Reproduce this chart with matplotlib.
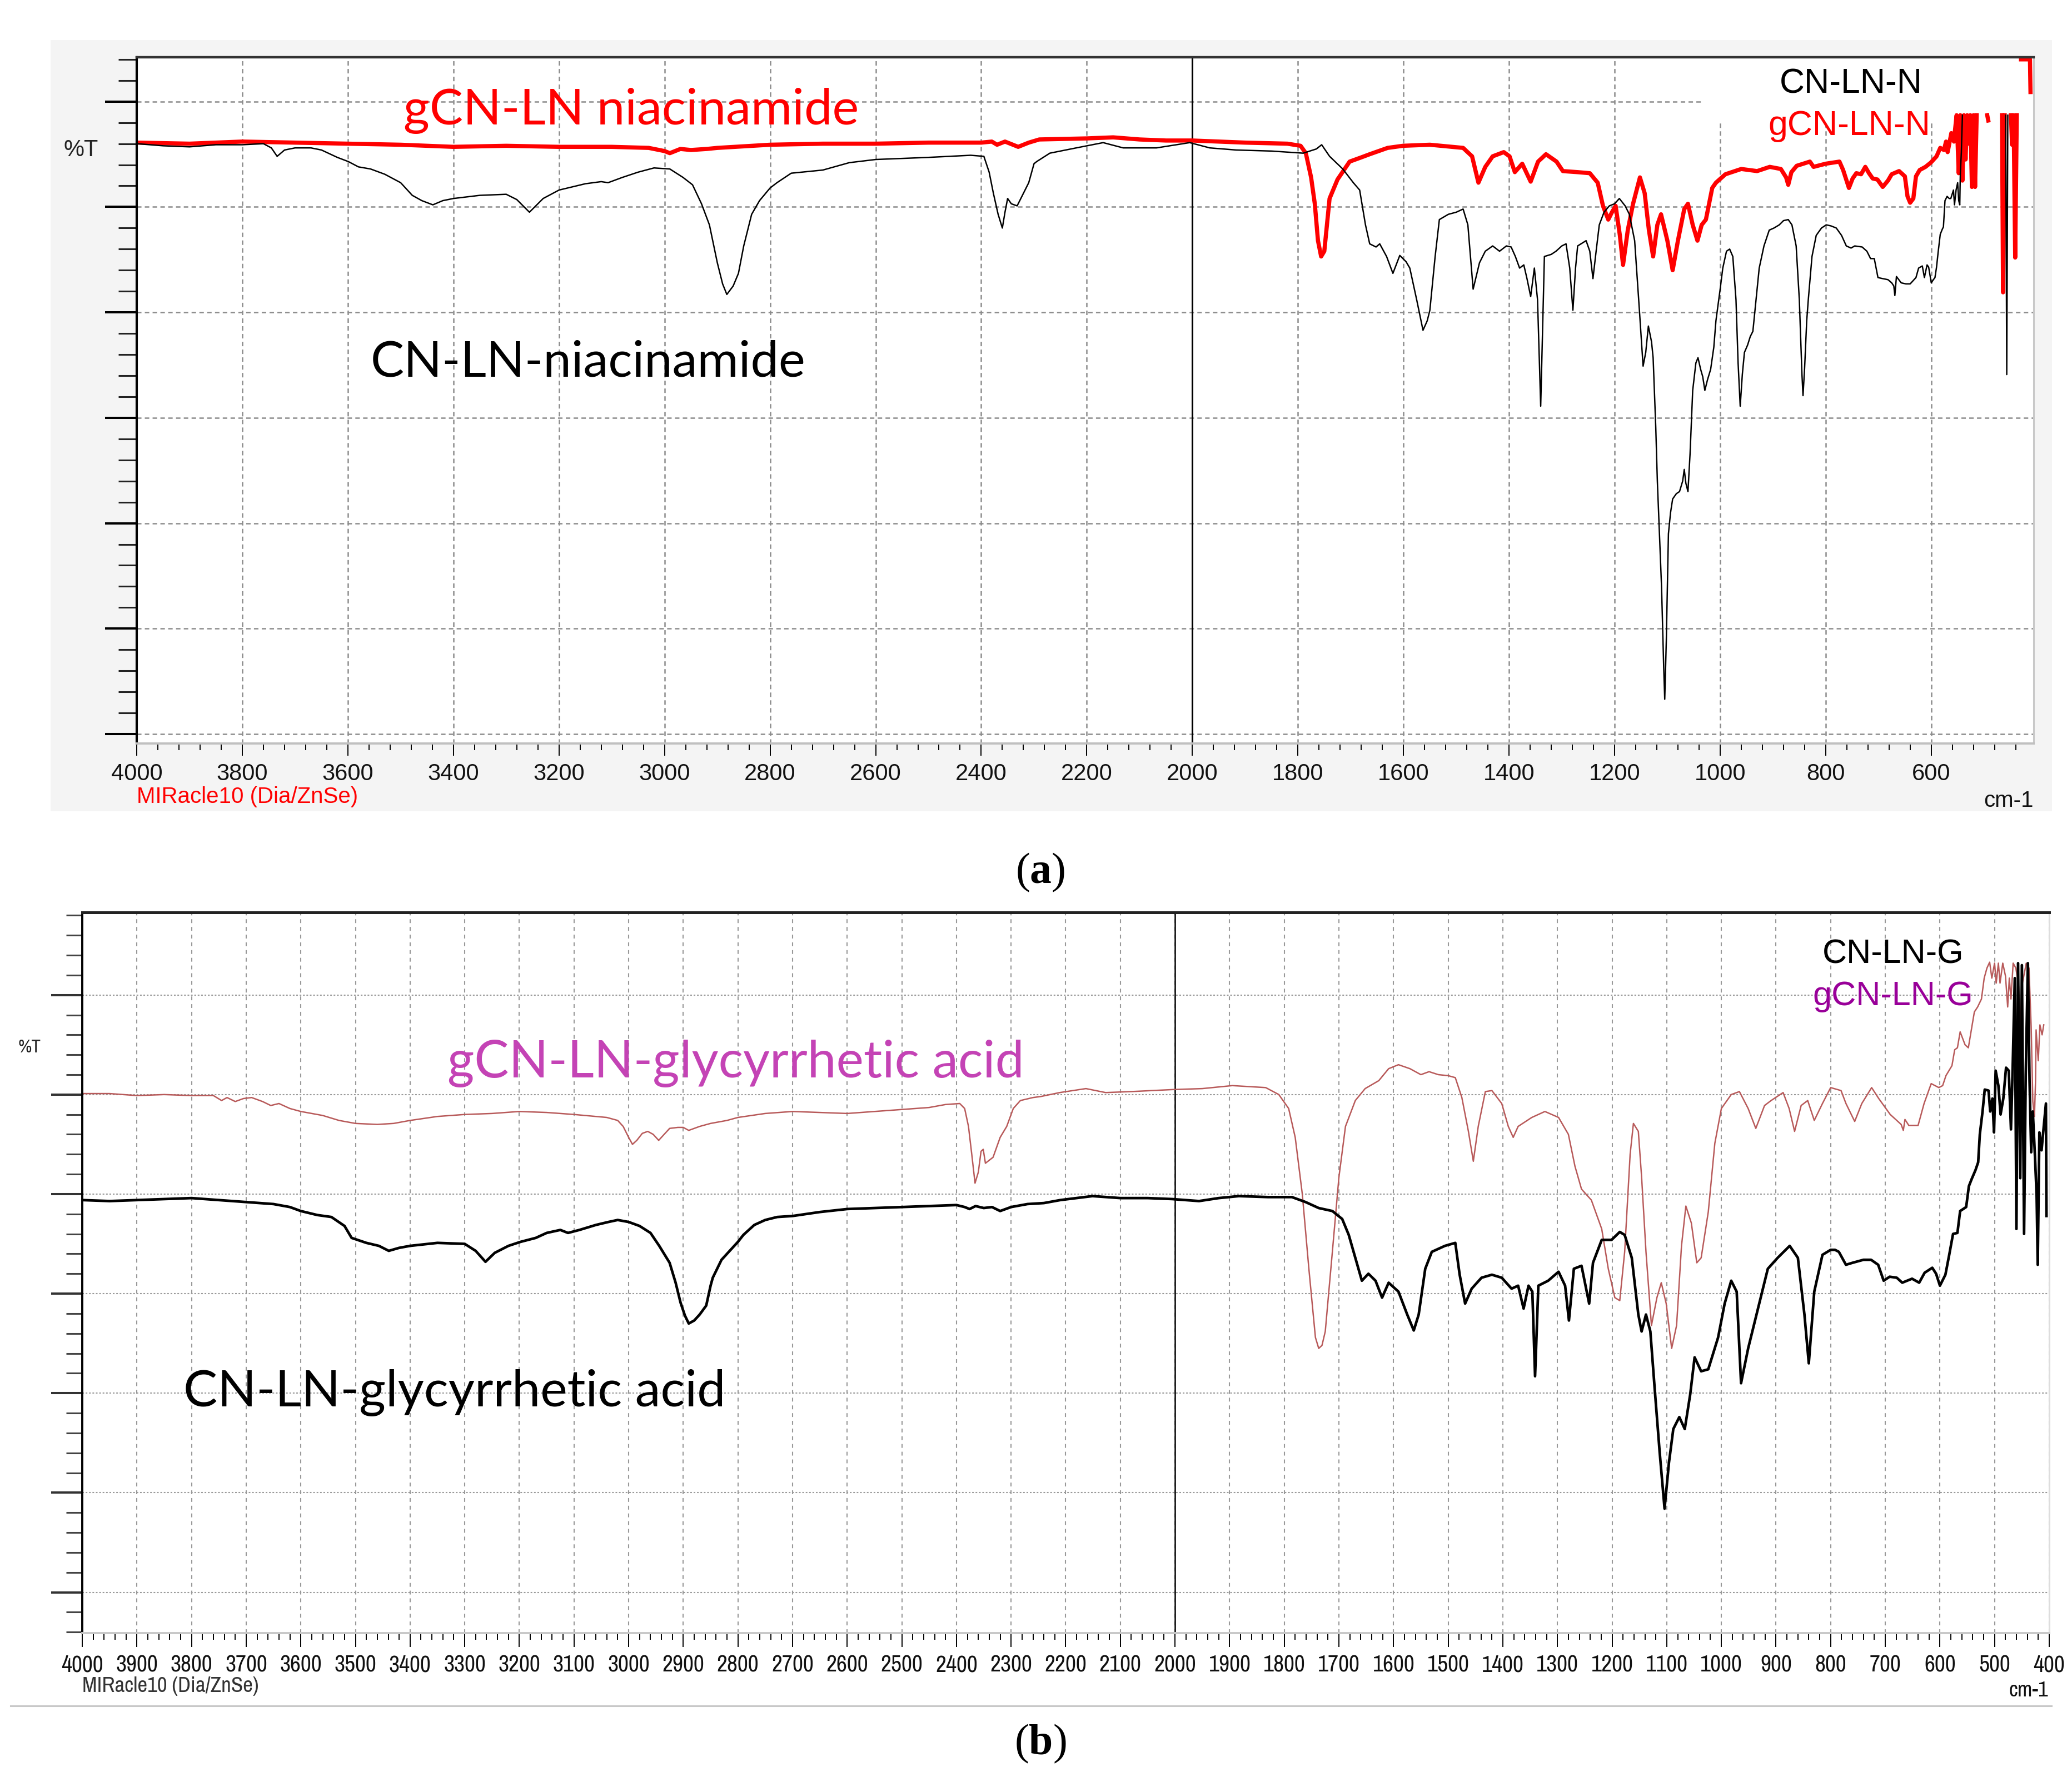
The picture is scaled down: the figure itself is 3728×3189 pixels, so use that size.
import numpy as np
import matplotlib
matplotlib.use("Agg")
import matplotlib.pyplot as plt
from matplotlib import font_manager
from matplotlib.font_manager import FontProperties
from matplotlib.patches import Rectangle
from matplotlib.ticker import MultipleLocator

GAP = (np.nan, np.nan)

# (a) gCN-LN-N, red trace: (wavenumber, %T in grid units)
gcnln_n = [
    (4000, 5.61), (3900, 5.60), (3800, 5.62), (3700, 5.61), (3600, 5.60), (3500, 5.59),
    (3400, 5.57), (3300, 5.58), (3200, 5.57), (3100, 5.57), (3030, 5.56), (3000, 5.53),
    (2990, 5.51), (2970, 5.55), (2950, 5.54), (2920, 5.55), (2900, 5.56), (2800, 5.59),
    (2700, 5.60), (2600, 5.60), (2500, 5.61), (2400, 5.61), (2380, 5.62), (2370, 5.59),
    (2355, 5.62), (2345, 5.60), (2330, 5.57), (2310, 5.61), (2290, 5.64), (2200, 5.65),
    (2150, 5.66), (2100, 5.64), (2050, 5.63), (2000, 5.63), (1950, 5.62), (1900, 5.61),
    (1820, 5.60), (1795, 5.58), (1785, 5.51), (1775, 5.28), (1768, 5.03), (1762, 4.68),
    (1756, 4.53), (1750, 4.58), (1745, 4.83), (1740, 5.08), (1725, 5.26), (1702, 5.43),
    (1680, 5.47), (1664, 5.50), (1630, 5.56), (1601, 5.58), (1550, 5.59), (1487, 5.56),
    (1470, 5.48), (1458, 5.23), (1445, 5.38), (1431, 5.48), (1410, 5.52), (1399, 5.48),
    (1389, 5.33), (1375, 5.41), (1359, 5.24), (1345, 5.43), (1330, 5.50), (1310, 5.43),
    (1298, 5.34), (1270, 5.33), (1247, 5.32), (1232, 5.23), (1222, 5.01), (1212, 4.88),
    (1205, 4.95), (1198, 5.01), (1190, 4.73), (1184, 4.45), (1175, 4.78), (1165, 5.03),
    (1152, 5.28), (1143, 5.13), (1135, 4.78), (1127, 4.53), (1119, 4.83), (1112, 4.93),
    (1100, 4.68), (1090, 4.40), (1080, 4.68), (1068, 4.98), (1061, 5.03), (1052, 4.83),
    (1043, 4.68), (1035, 4.83), (1027, 4.88), (1015, 5.18), (1008, 5.23), (990, 5.31),
    (960, 5.36), (930, 5.34), (906, 5.38), (885, 5.36), (875, 5.28), (871, 5.21),
    (865, 5.33), (855, 5.39), (830, 5.43), (823, 5.38), (800, 5.41), (774, 5.43),
    (767, 5.35), (756, 5.18), (749, 5.27), (742, 5.32), (733, 5.31), (725, 5.38),
    (718, 5.32), (711, 5.27), (702, 5.26), (692, 5.19), (682, 5.25), (675, 5.31),
    (661, 5.34), (650, 5.29), (645, 5.10), (640, 5.04), (634, 5.08), (629, 5.29),
    (622, 5.35), (611, 5.38), (601, 5.42), (590, 5.48), (583, 5.56), (576, 5.54),
    (572, 5.62), (569, 5.52), (562, 5.70), (557, 5.62), (555, 5.73), (552, 5.87),
    (548, 5.32), (545, 5.87), (541, 5.25), (538, 5.87), (535, 5.45), (532, 5.87),
    (529, 5.60), (526, 5.87), (523, 5.19), (520, 5.87), (517, 5.19), (514, 5.87),
    GAP, (494, 5.87), (492, 5.82), GAP, (466, 5.87), (464, 4.19), (461, 5.87),
    GAP, (449, 5.87), (447, 5.59), (444, 5.87), (441, 4.52), (438, 5.87),
    GAP, (430, 6.40), (413, 6.40), (412, 6.09),
]

# (a) CN-LN-N, black trace
cnln_n = [
    (4000, 5.60), (3950, 5.58), (3900, 5.57), (3850, 5.59), (3800, 5.59), (3760, 5.60),
    (3745, 5.56), (3734, 5.48), (3720, 5.54), (3700, 5.56), (3670, 5.56), (3650, 5.54),
    (3620, 5.47), (3599, 5.43), (3580, 5.38), (3557, 5.36), (3530, 5.31), (3500, 5.23),
    (3478, 5.11), (3460, 5.06), (3439, 5.02), (3420, 5.06), (3400, 5.08), (3350, 5.11),
    (3300, 5.12), (3280, 5.07), (3256, 4.95), (3230, 5.08), (3200, 5.16), (3150, 5.22),
    (3120, 5.24), (3107, 5.23), (3080, 5.28), (3050, 5.33), (3020, 5.37), (2990, 5.36),
    (2965, 5.28), (2947, 5.21), (2930, 5.03), (2915, 4.83), (2900, 4.47), (2890, 4.27),
    (2882, 4.17), (2870, 4.25), (2860, 4.37), (2850, 4.63), (2835, 4.93), (2820, 5.06),
    (2800, 5.18), (2787, 5.23), (2760, 5.32), (2720, 5.34), (2700, 5.35), (2650, 5.42),
    (2600, 5.45), (2500, 5.47), (2420, 5.49), (2395, 5.48), (2385, 5.33), (2377, 5.13),
    (2368, 4.93), (2360, 4.80), (2355, 4.95), (2350, 5.08), (2343, 5.03), (2332, 5.01),
    (2320, 5.13), (2310, 5.23), (2300, 5.41), (2295, 5.43), (2270, 5.51), (2220, 5.56),
    (2169, 5.61), (2131, 5.56), (2068, 5.56), (2005, 5.61), (1967, 5.56), (1917, 5.54),
    (1850, 5.53), (1790, 5.51), (1765, 5.55), (1755, 5.59), (1740, 5.48), (1715, 5.36),
    (1695, 5.23), (1683, 5.16), (1672, 4.83), (1664, 4.65), (1652, 4.62), (1645, 4.65),
    (1632, 4.53), (1620, 4.37), (1607, 4.54), (1595, 4.48), (1588, 4.42), (1575, 4.12),
    (1563, 3.83), (1555, 3.92), (1550, 4.02), (1540, 4.53), (1532, 4.88), (1515, 4.93),
    (1500, 4.95), (1487, 4.98), (1478, 4.83), (1468, 4.22), (1456, 4.47), (1445, 4.58),
    (1431, 4.63), (1418, 4.58), (1405, 4.63), (1396, 4.62), (1388, 4.53), (1380, 4.42),
    (1372, 4.45), (1366, 4.32), (1359, 4.15), (1352, 4.42), (1346, 4.12), (1340, 3.11),
    (1335, 4.12), (1333, 4.53), (1320, 4.55), (1311, 4.58), (1300, 4.63), (1292, 4.65),
    (1285, 4.42), (1279, 4.02), (1274, 4.42), (1270, 4.63), (1254, 4.68), (1247, 4.58),
    (1241, 4.32), (1235, 4.58), (1229, 4.83), (1220, 4.95), (1210, 5.01), (1200, 5.03),
    (1191, 5.08), (1180, 5.01), (1172, 4.93), (1162, 4.68), (1153, 4.02), (1146, 3.49),
    (1141, 3.62), (1136, 3.87), (1130, 3.72), (1127, 3.57), (1122, 2.91), (1119, 2.40),
    (1115, 1.90), (1111, 1.39), (1107, 0.64), (1105, 0.33), (1102, 0.89), (1098, 1.90),
    (1094, 2.10), (1090, 2.23), (1083, 2.28), (1077, 2.30), (1071, 2.40), (1068, 2.51),
    (1065, 2.38), (1061, 2.30), (1057, 2.66), (1052, 3.26), (1046, 3.52), (1042, 3.57),
    (1037, 3.46), (1033, 3.39), (1029, 3.26), (1024, 3.36), (1018, 3.46), (1012, 3.67),
    (1008, 3.92), (1000, 4.22), (995, 4.42), (988, 4.58), (982, 4.60), (976, 4.53),
    (970, 4.12), (966, 3.52), (962, 3.11), (958, 3.41), (954, 3.62), (948, 3.69),
    (943, 3.77), (938, 3.82), (932, 4.12), (926, 4.42), (917, 4.63), (907, 4.78),
    (898, 4.80), (888, 4.83), (880, 4.87), (871, 4.88), (864, 4.83), (856, 4.63),
    (850, 4.12), (845, 3.41), (843, 3.21), (840, 3.47), (836, 3.92), (833, 4.12),
    (826, 4.53), (818, 4.73), (808, 4.80), (799, 4.83), (790, 4.82), (780, 4.80),
    (770, 4.73), (761, 4.63), (752, 4.61), (745, 4.63), (731, 4.62), (722, 4.58),
    (715, 4.51), (708, 4.51), (701, 4.33), (692, 4.32), (682, 4.31), (675, 4.28),
    (671, 4.25), (669, 4.16), (666, 4.34), (657, 4.28), (648, 4.27), (640, 4.27),
    (629, 4.33), (624, 4.42), (617, 4.44), (613, 4.33), (608, 4.45), (605, 4.43),
    (600, 4.28), (596, 4.31), (593, 4.33), (590, 4.43), (587, 4.57), (583, 4.74),
    (579, 4.79), (577, 4.81), (574, 5.06), (570, 5.10), (566, 5.08), (563, 5.08),
    (558, 5.16), (556, 5.02), (553, 5.16), (550, 5.23), (548, 5.06), (546, 5.02),
    (545, 5.31), (543, 5.52), (541, 5.87),
    GAP, (459, 5.87), (457, 3.41), (455, 5.87),
]

# (b) gCN-LN-G, rose trace
gcnln_g = [
    (4000, 5.01), (3950, 5.01), (3900, 4.99), (3850, 5.00), (3800, 4.99), (3760, 4.99),
    (3745, 4.94), (3735, 4.97), (3720, 4.93), (3705, 4.96), (3690, 4.97), (3670, 4.93),
    (3655, 4.89), (3640, 4.91), (3620, 4.86), (3600, 4.83), (3560, 4.79), (3530, 4.74),
    (3500, 4.71), (3460, 4.70), (3430, 4.71), (3400, 4.74), (3350, 4.78), (3300, 4.80),
    (3250, 4.81), (3200, 4.83), (3150, 4.82), (3100, 4.80), (3060, 4.78), (3040, 4.77),
    (3020, 4.74), (3010, 4.68), (3000, 4.57), (2993, 4.50), (2985, 4.54), (2975, 4.61),
    (2965, 4.63), (2955, 4.60), (2945, 4.54), (2935, 4.60), (2925, 4.66), (2910, 4.67),
    (2900, 4.67), (2890, 4.64), (2870, 4.68), (2850, 4.71), (2820, 4.74), (2800, 4.77),
    (2750, 4.81), (2700, 4.83), (2650, 4.82), (2600, 4.81), (2550, 4.83), (2500, 4.85),
    (2450, 4.87), (2420, 4.90), (2394, 4.91), (2385, 4.86), (2378, 4.68), (2372, 4.40),
    (2366, 4.11), (2360, 4.22), (2355, 4.43), (2351, 4.45), (2347, 4.31), (2340, 4.34),
    (2333, 4.37), (2320, 4.57), (2308, 4.68), (2296, 4.86), (2283, 4.94), (2260, 4.97),
    (2246, 4.98), (2211, 5.02), (2163, 5.06), (2127, 5.02), (2080, 5.03), (2005, 5.05),
    (1950, 5.06), (1895, 5.09), (1834, 5.07), (1810, 5.00), (1792, 4.86), (1780, 4.57),
    (1767, 4.00), (1755, 3.25), (1743, 2.56), (1737, 2.45), (1731, 2.48), (1725, 2.62),
    (1712, 3.42), (1700, 4.17), (1688, 4.68), (1670, 4.94), (1652, 5.06), (1627, 5.14),
    (1609, 5.26), (1591, 5.30), (1570, 5.26), (1550, 5.20), (1535, 5.23), (1518, 5.20),
    (1500, 5.19), (1487, 5.17), (1475, 4.97), (1463, 4.63), (1454, 4.33), (1445, 4.68),
    (1432, 5.03), (1420, 5.04), (1402, 4.91), (1390, 4.68), (1381, 4.57), (1372, 4.68),
    (1347, 4.77), (1323, 4.83), (1298, 4.77), (1280, 4.60), (1268, 4.28), (1256, 4.05),
    (1238, 3.94), (1219, 3.65), (1207, 3.25), (1195, 2.96), (1186, 2.93), (1177, 3.42),
    (1167, 4.40), (1161, 4.71), (1152, 4.63), (1146, 4.17), (1138, 3.42), (1128, 2.68),
    (1118, 2.96), (1110, 3.11), (1101, 2.90), (1091, 2.45), (1082, 2.68), (1073, 3.48),
    (1065, 3.88), (1055, 3.71), (1045, 3.31), (1037, 3.36), (1024, 3.82), (1012, 4.51),
    (1000, 4.86), (982, 5.00), (967, 5.03), (951, 4.86), (937, 4.66), (921, 4.89),
    (909, 4.94), (887, 5.02), (876, 4.86), (866, 4.63), (854, 4.89), (842, 4.94),
    (830, 4.74), (815, 4.91), (800, 5.07), (781, 5.04), (772, 4.91), (756, 4.73),
    (743, 4.91), (725, 5.07), (712, 4.96), (691, 4.80), (671, 4.70), (667, 4.64),
    (664, 4.75), (657, 4.69), (640, 4.69), (629, 4.91), (616, 5.11), (602, 5.07),
    (595, 5.09), (589, 5.19), (578, 5.29), (573, 5.45), (568, 5.47), (563, 5.63),
    (554, 5.50), (548, 5.47), (544, 5.60), (537, 5.83), (531, 5.88), (524, 5.96),
    (519, 6.17), (514, 6.27), (509, 6.33), (505, 6.17), (500, 6.32), (497, 6.12),
    (493, 6.32), (490, 6.12), (485, 6.32), (480, 6.19), (476, 5.88), (473, 6.17),
    (470, 5.96), (466, 6.32), (461, 6.27), (456, 6.09), (452, 5.52), (449, 6.12),
    (442, 6.32), (437, 6.27), (433, 5.68), (430, 4.93), (427, 4.78), (425, 5.14),
    (424, 5.65), (420, 5.34), (417, 5.70), (413, 5.60), (410, 5.70),
]

# (b) CN-LN-G, black trace
cnln_g = [
    (4000, 3.94), (3950, 3.93), (3900, 3.94), (3850, 3.95), (3800, 3.96), (3750, 3.94),
    (3700, 3.92), (3650, 3.90), (3620, 3.87), (3600, 3.83), (3570, 3.79), (3544, 3.77),
    (3520, 3.68), (3507, 3.56), (3480, 3.51), (3457, 3.48), (3439, 3.43), (3420, 3.46),
    (3400, 3.48), (3350, 3.51), (3300, 3.50), (3280, 3.43), (3262, 3.32), (3245, 3.41),
    (3220, 3.48), (3198, 3.52), (3170, 3.56), (3150, 3.61), (3125, 3.64), (3111, 3.61),
    (3090, 3.64), (3060, 3.69), (3037, 3.72), (3020, 3.74), (3000, 3.72), (2980, 3.68),
    (2960, 3.61), (2944, 3.48), (2925, 3.31), (2914, 3.11), (2905, 2.91), (2897, 2.78),
    (2890, 2.70), (2880, 2.73), (2870, 2.79), (2858, 2.88), (2850, 3.08), (2846, 3.16),
    (2830, 3.34), (2815, 3.43), (2800, 3.52), (2790, 3.59), (2770, 3.69), (2750, 3.74),
    (2728, 3.77), (2700, 3.78), (2650, 3.82), (2600, 3.85), (2550, 3.86), (2500, 3.87),
    (2450, 3.88), (2400, 3.89), (2385, 3.87), (2376, 3.85), (2365, 3.88), (2350, 3.86),
    (2335, 3.87), (2320, 3.83), (2310, 3.85), (2300, 3.87), (2270, 3.90), (2240, 3.91),
    (2210, 3.94), (2151, 3.98), (2100, 3.96), (2050, 3.96), (2005, 3.95), (1956, 3.93),
    (1920, 3.96), (1883, 3.98), (1830, 3.97), (1786, 3.97), (1761, 3.92), (1737, 3.86),
    (1712, 3.83), (1694, 3.75), (1682, 3.59), (1670, 3.36), (1658, 3.13), (1646, 3.20),
    (1633, 3.13), (1621, 2.96), (1609, 3.11), (1591, 3.02), (1575, 2.79), (1563, 2.63),
    (1554, 2.79), (1542, 3.25), (1530, 3.42), (1506, 3.48), (1487, 3.51), (1479, 3.19),
    (1469, 2.90), (1457, 3.05), (1439, 3.16), (1420, 3.19), (1402, 3.16), (1384, 3.05),
    (1372, 3.08), (1362, 2.85), (1353, 3.08), (1346, 3.02), (1341, 2.17), (1335, 3.08),
    (1317, 3.13), (1298, 3.22), (1286, 3.08), (1279, 2.73), (1270, 3.25), (1256, 3.28),
    (1242, 2.90), (1235, 3.31), (1219, 3.54), (1201, 3.54), (1186, 3.62), (1177, 3.59),
    (1164, 3.36), (1152, 2.79), (1146, 2.62), (1138, 2.79), (1130, 2.62), (1122, 2.04),
    (1113, 1.41), (1104, 0.84), (1096, 1.30), (1088, 1.64), (1077, 1.76), (1067, 1.64),
    (1057, 1.99), (1049, 2.36), (1037, 2.22), (1024, 2.24), (1006, 2.56), (994, 2.90),
    (982, 3.13), (972, 3.02), (964, 2.10), (951, 2.45), (933, 2.85), (915, 3.25),
    (897, 3.36), (875, 3.48), (860, 3.36), (848, 2.79), (840, 2.30), (830, 3.02),
    (815, 3.39), (800, 3.44), (792, 3.44), (785, 3.42), (772, 3.29), (760, 3.31),
    (740, 3.34), (726, 3.34), (713, 3.29), (703, 3.13), (692, 3.17), (679, 3.16),
    (669, 3.11), (651, 3.15), (638, 3.11), (628, 3.21), (614, 3.26), (607, 3.20),
    (600, 3.08), (590, 3.19), (583, 3.39), (576, 3.60), (568, 3.61), (563, 3.83),
    (552, 3.87), (547, 4.08), (542, 4.15), (535, 4.24), (530, 4.32), (527, 4.60),
    (522, 4.83), (518, 5.05), (511, 5.04), (508, 4.83), (504, 4.96), (501, 4.62),
    (498, 5.24), (493, 5.09), (489, 4.80), (484, 4.96), (479, 5.27), (474, 5.24),
    (470, 4.65), (467, 5.24), (463, 6.17), (460, 3.65), (457, 6.32), (453, 4.16),
    (450, 6.30), (446, 3.60), (443, 5.19), (439, 6.32), (436, 5.14), (433, 4.42),
    (430, 4.83), (426, 4.37), (423, 3.98), (421, 3.29), (418, 4.62), (414, 4.44),
    (411, 4.62), (406, 4.91), (405, 3.78),
]

RED = "#ff0000"
ROSE = "#b85a5a"
PURPLE = "#990099"
ORCHID = "#c443b5"

plt.rcParams["font.family"] = ["Liberation Sans", "DejaVu Sans"]
plt.rcParams["lines.scale_dashes"] = False
plt.rcParams["mathtext.fontset"] = "custom"
plt.rcParams["mathtext.rm"] = "Liberation Serif"
plt.rcParams["mathtext.bf"] = "Liberation Serif:bold"

names = {f.name for f in font_manager.fontManager.ttflist}
CAL = "Lato" if "Lato" in names else "DejaVu Sans"


def find_narrow():
    # look for an installed condensed sans face, best match first
    best = None
    for f in font_manager.fontManager.ttflist:
        fn = f.fname.lower().replace("-", "").replace("_", "")
        nm = f.name.lower()
        if "mono" in fn or "serif" in nm or "bold" in fn or "italic" in fn or "oblique" in fn:
            continue
        if "light" in fn or "thin" in fn or "medium" in fn or "black" in fn or "semibold" in fn:
            continue
        if "narrow" in nm or "narrow" in fn:
            score = 0
        elif "semicondensed" in fn:
            score = 3
        elif "extracondensed" in fn:
            score = 4
        elif "condensed" in fn or "condensed" in str(f.stretch).lower():
            score = 1 if ("dejavu" in fn or "liberation" in fn) else 2
        else:
            continue
        if best is None or score < best[0]:
            best = (score, f.fname)
    return best[1] if best else None


NARROW_FILE = find_narrow()


def narrow(size):
    if NARROW_FILE:
        return FontProperties(fname=NARROW_FILE, size=size)
    return FontProperties(family="Liberation Sans", size=size * 0.82)


def xy(pairs):
    arr = np.array(pairs, dtype=float)
    return arr[:, 0], arr[:, 1]


fig = plt.figure(figsize=(37.28, 31.89), dpi=100)

# grey panel behind (a)
fig.add_artist(Rectangle((0.0244, 0.5422), 0.966, 0.4352, transform=fig.transFigure,
                         facecolor="#f4f4f4", edgecolor="none", zorder=-1))

# ---------- panel (a) ----------
axa = fig.add_axes([0.0660, 0.5804, 0.9155, 0.3873])
axa.set_facecolor("white")
axa.set_xlim(4000, 406)
axa.set_ylim(-0.09, 6.42)
axa.set_axisbelow(True)
axa.xaxis.set_major_locator(MultipleLocator(200))
axa.xaxis.set_minor_locator(MultipleLocator(40))
axa.yaxis.set_major_locator(MultipleLocator(1))
axa.yaxis.set_minor_locator(MultipleLocator(0.2))
axa.tick_params(axis="y", which="major", length=41, width=2.9, color="black", labelleft=False)
axa.tick_params(axis="y", which="minor", length=24, width=2.2, color="#222222")
axa.tick_params(axis="x", which="major", length=16, width=1.4, labelsize=30, pad=9,
                labelcolor="#111111")
axa.tick_params(axis="x", which="minor", length=8.6, width=1.4)
grid_a = dict(color="#8c8c8c", lw=1.8, ls=(0, (5.8, 4.3)))
axa.xaxis.grid(True, which="major", **grid_a)
axa.yaxis.grid(True, which="major", **grid_a)
axa.spines["top"].set_color("#333333")
axa.spines["top"].set_linewidth(3.2)
axa.spines["left"].set_color("black")
axa.spines["left"].set_linewidth(3.0)
axa.spines["right"].set_color("#c8c8c8")
axa.spines["right"].set_linewidth(2.2)
axa.spines["bottom"].set_color("#c0c0c0")
axa.spines["bottom"].set_linewidth(2.8)

axa.add_patch(Rectangle((406, 5.82), 1035 - 406, 0.7, facecolor="white",
                        edgecolor="none", zorder=0.8))
axa.axvline(2000, color="black", lw=2.2, zorder=1)

x, y = xy(gcnln_n)
axa.plot(x, y, color=RED, lw=5.4, zorder=2)
x, y = xy(cnln_n)
axa.plot(x, y, color="black", lw=1.8, zorder=3)

axa.text(3063, 5.78, "gCN-LN niacinamide", color=RED, fontsize=65, family=CAL,
         ha="center", va="baseline", zorder=5)
axa.text(3145, 3.39, "CN-LN-niacinamide", color="black", fontsize=65, family=CAL,
         ha="center", va="baseline", zorder=5)
axa.text(617, 6.08, "CN-LN-N", color="black", fontsize=45, ha="right", va="baseline", zorder=5)
axa.text(602, 5.68, "gCN-LN-N", color=RED, fontsize=45, ha="right", va="baseline", zorder=5)

fig.text(0.0308, 0.9153, "%T", fontsize=30, color="#222222", ha="left", va="center")
fig.text(0.0660, 0.5563, "MIRacle10 (Dia/ZnSe)", fontsize=29, color=RED, ha="left", va="top")
fig.text(0.9815, 0.5540, "cm-1", fontsize=29, color="#111111", ha="right", va="top")
fig.text(0.502, 0.5077, r"($\mathbf{a}$)", fontsize=56, family="Liberation Serif",
         ha="center", va="center")

# ---------- panel (b) ----------
axb = fig.add_axes([0.0397, 0.0784, 0.9493, 0.4067])
axb.set_xlim(4000, 400)
axb.set_ylim(-0.41, 6.83)
axb.set_axisbelow(True)
axb.xaxis.set_major_locator(MultipleLocator(100))
axb.xaxis.set_minor_locator(MultipleLocator(20))
axb.yaxis.set_major_locator(MultipleLocator(1))
axb.yaxis.set_minor_locator(MultipleLocator(0.2))
axb.tick_params(axis="y", which="major", length=40, width=2.9, color="#333333", labelleft=False)
axb.tick_params(axis="y", which="minor", length=21, width=2.2, color="#444444")
axb.tick_params(axis="x", which="major", length=18, width=1.4, pad=10, labelcolor="#111111")
axb.tick_params(axis="x", which="minor", length=8.6, width=1.4)
for lab in axb.get_xticklabels():
    lab.set_fontproperties(narrow(30))
axb.xaxis.grid(True, which="major", color="#999999", lw=1.5, ls=(0, (5, 5)))
axb.yaxis.grid(True, which="major", color="#999999", lw=1.5, ls=(0, (2.2, 2.2)))
axb.spines["top"].set_color("#222222")
axb.spines["top"].set_linewidth(3.6)
axb.spines["left"].set_color("black")
axb.spines["left"].set_linewidth(2.8)
axb.spines["right"].set_color("#dddddd")
axb.spines["right"].set_linewidth(2.2)
axb.spines["bottom"].set_color("#c8c8c8")
axb.spines["bottom"].set_linewidth(2.8)
axb.axvline(2000, color="black", lw=1.8, zorder=1)

x, y = xy(gcnln_g)
axb.plot(x, y, color=ROSE, lw=1.8, zorder=2)
x, y = xy(cnln_g)
axb.plot(x, y, color="black", lw=3.4, zorder=3)

axb.text(2804, 5.17, "gCN-LN-glycyrrhetic acid", color=ORCHID, fontsize=67, family=CAL,
         ha="center", va="baseline", zorder=5)
axb.text(3319, 1.87, "CN-LN-glycyrrhetic acid", color="black", fontsize=66, family=CAL,
         ha="center", va="baseline", zorder=5)
axb.text(556, 6.32, "CN-LN-G", color="black", fontsize=44, ha="right", va="baseline", zorder=5)
axb.text(539, 5.90, "gCN-LN-G", color=PURPLE, fontsize=44, ha="right", va="baseline", zorder=5)

fig.text(0.0088, 0.4089, "%T", fontproperties=narrow(24), color="#222222",
         ha="left", va="center")
fig.text(0.0397, 0.0539, "MIRacle10 (Dia/ZnSe)", fontproperties=narrow(28),
         color="#333333", ha="left", va="top")
fig.text(0.9885, 0.0514, "cm-1", fontproperties=narrow(28), color="#111111",
         ha="right", va="top")
fig.add_artist(plt.Line2D([0.005, 0.99], [0.0373, 0.0373], transform=fig.transFigure,
                          color="#c8c8c8", lw=2.2))
fig.text(0.502, 0.016, r"($\mathbf{b}$)", fontsize=56, family="Liberation Serif",
         ha="center", va="center")

fig.savefig("out.png", dpi=100, facecolor="white")
